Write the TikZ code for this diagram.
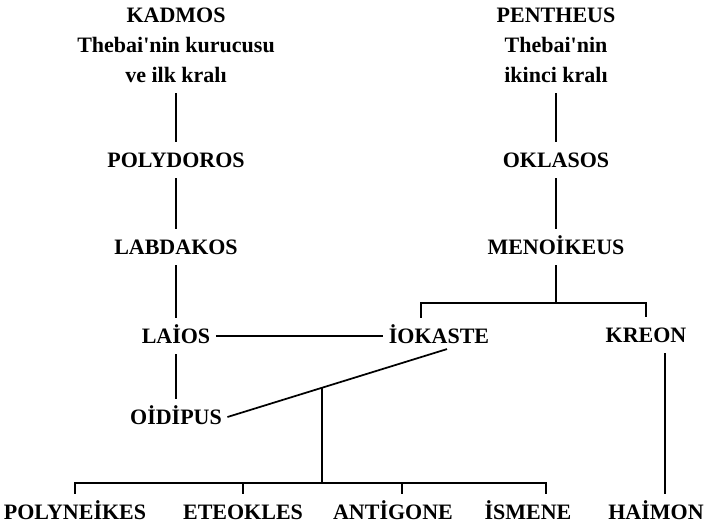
\documentclass[tikz,border=0pt]{standalone}
\usepackage{fontspec}
\setmainfont{Liberation Serif}
\usetikzlibrary{calc}
\newcommand{\kisifont}{\fontsize{16.5}{22.5}\selectfont\bfseries}

\begin{document}
\begin{tikzpicture}[
    x=0.75pt, y=-0.75pt,
    kisi/.style={inner xsep=4pt, inner ysep=8pt, font=\kisifont, align=center},
    tek/.style={kisi, text height=11.2pt, text depth=0pt},
    bag/.style={line width=1.3pt},
]
\useasboundingbox (0,0) rectangle (713,526);

% left line
\node[kisi] (kadmos) at (176,45) {KADMOS\\Thebai\textquotesingle nin kurucusu\\ve ilk kralı};
\node[tek] (polydoros) at (176,160) {POLYDOROS};
\node[tek] (labdakos) at (176,247) {LABDAKOS};
\node[tek] (laios) at (176,336) {LAİOS};
\node[tek] (oidipus) at (176,417) {OİDİPUS};

% right line
\node[kisi] (pentheus) at (556,45) {PENTHEUS\\Thebai\textquotesingle nin\\ikinci kralı};
\node[tek] (oklasos) at (556,160) {OKLASOS};
\node[tek] (menoikeus) at (556,247) {MENOİKEUS};
\node[tek] (iokaste) at (439,336) {İOKASTE};
\node[tek] (kreon) at (646,335) {KREON};

% children
\node[tek] (polyneikes) at (75,512) {POLYNEİKES};
\node[tek] (eteokles) at (243,512) {ETEOKLES};
\node[tek] (antigone) at (393,512) {ANTİGONE};
\node[tek] (ismene) at (528,512) {İSMENE};
\node[tek] (haimon) at (656,512) {HAİMON};

\draw[bag] (kadmos) -- (polydoros);
\draw[bag] (polydoros) -- (labdakos);
\draw[bag] (labdakos) -- (laios);
\draw[bag] (laios) -- (oidipus);
\draw[bag] (laios) -- (iokaste);

\draw[bag] (pentheus) -- (oklasos);
\draw[bag] (oklasos) -- (menoikeus);
\coordinate (mk) at (556,303);
\draw[bag] (menoikeus) -- (mk);
\draw[bag] ([xshift=-13.5pt]iokaste.north) |- (mk) -| (kreon.north);
\draw[bag] ([xshift=14pt]kreon.south) -- ([xshift=14pt]kreon.south |- haimon.north);

% Oidipus + Iokaste
\coordinate (ioend) at ([shift={(6pt,4pt)}]iokaste.south);
\draw[bag] (oidipus.east) -- (ioend);
\coordinate (evlilik) at ($(oidipus.east)!0.43!(ioend)$);
\coordinate (cocuk) at (evlilik |- 0,483);
\draw[bag] (evlilik) -- (cocuk);
\draw[bag] (polyneikes.north) |- (cocuk) -| ([xshift=13.5pt]ismene.north);
\draw[bag] (eteokles.north) -- (eteokles.north |- cocuk);
\draw[bag] ([xshift=6.75pt]antigone.north) -- ([xshift=6.75pt]antigone.north |- cocuk);
\end{tikzpicture}
\end{document}
